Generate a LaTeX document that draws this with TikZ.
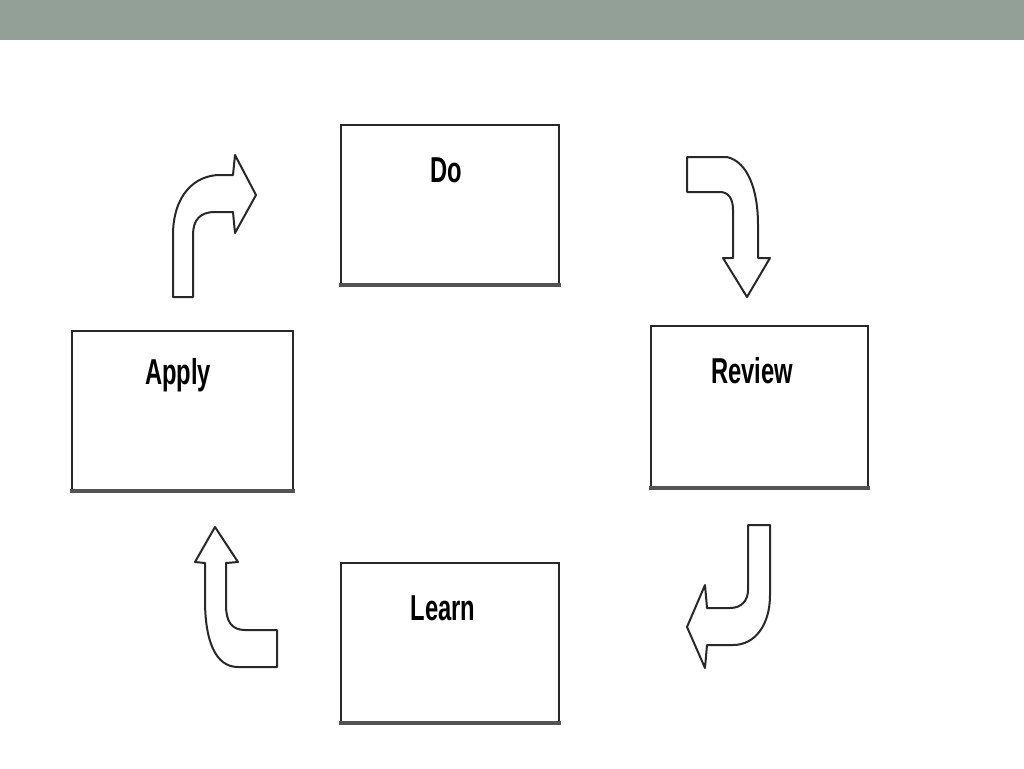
\documentclass[tikz,border=0pt]{standalone}
\usepackage{fontspec}
\setmainfont{Liberation Sans}
\definecolor{barcol}{RGB}{147,160,151}
\definecolor{edgecol}{RGB}{40,40,40}
\begin{document}
\begin{tikzpicture}[x=1pt,y=-1pt,
  boxst/.style={draw=edgecol,line width=2pt,fill=white,minimum width=#1,minimum height=160pt,inner sep=0pt},
  boxst/.default=218pt,
  lbl/.style={font=\fontsize{36}{40}\selectfont\bfseries,anchor=base,inner sep=0pt,xscale=0.66},
  barrow/.style={draw=edgecol,line width=2pt,fill=white,line join=round}]
\useasboundingbox (0,0) rectangle (1024,768);
\fill[barcol] (0,0) rectangle (1024,40);
% boxes
\node[boxst=218pt,anchor=north west] (do) at (340,124) {};
\node[boxst=221pt,anchor=north west] (apply) at (71,330) {};
\node[boxst=217pt,minimum height=162pt,anchor=north west] (review) at (650,325) {};
\node[boxst=218pt,anchor=north west] (learn) at (340,562) {};
\foreach \b in {do,apply,review,learn}{
  \draw[edgecol!80,line width=4.5pt] ([xshift=-1pt,yshift=1pt]\b.south west) -- ([xshift=1pt,yshift=1pt]\b.south east);
}
% labels
\node[lbl] (doT) at (446,182) {Do};
\node[lbl] (applyT) at (178,384) {Apply};
\node[lbl] (reviewT) at (752,383) {Review};
\node[lbl] (learnT) at (443,620) {Learn};
% block arrows
\draw[barrow] (173,297) -- (173,235) .. controls (173,195) and (195,175) .. (220,175) -- (233,175) -- (235,155) -- (256,195) -- (235,233) -- (233,212) -- (215,212) .. controls (200,212) and (193,220) .. (193,235) -- (193,297) -- cycle;
\draw[barrow] (687,157) -- (727,157) .. controls (748,162) and (758,190) .. (758,225) -- (758,258) -- (770,258) -- (747,297) -- (723,258) -- (733,258) -- (733,210) .. controls (733,198) and (728,192) .. (720,192) -- (687,192) -- cycle;
\draw[barrow] (748,525) -- (770,525) -- (770,595) .. controls (770,625) and (755,645) .. (733,645) -- (707,645) -- (705,668) -- (687,627) -- (705,585) -- (707,608) -- (730,608) .. controls (742,608) and (748,600) .. (748,590) -- cycle;
\draw[barrow] (277,630) -- (277,667) -- (238,667) .. controls (215,667) and (205,640) .. (205,600) -- (205,563) -- (195,562) -- (215,527) -- (238,562) -- (226,563) -- (226,605) .. controls (226,622) and (232,630) .. (245,630) -- cycle;
\end{tikzpicture}
\end{document}
